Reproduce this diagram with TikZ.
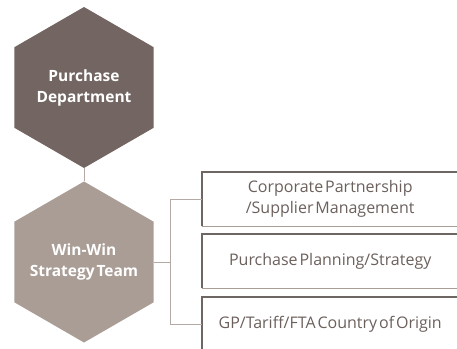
\documentclass[tikz,border=0pt]{standalone}
\usepackage{fontspec}
\setmainfont{Open Sans}
\usetikzlibrary{shapes.geometric}
\definecolor{deptbrown}{HTML}{736662}
\definecolor{teambrown}{HTML}{A99D96}
\definecolor{linkgray}{HTML}{B3AAA5}
\definecolor{edgegray}{HTML}{6E6663}
\definecolor{textgray}{HTML}{6B605C}
\newcommand{\tightwords}{\spaceskip=0.12em plus 0.05em\relax}

\begin{document}
\begin{tikzpicture}[x=1pt, y=-1pt,
    hexnode/.style={regular polygon, regular polygon sides=6, regular polygon rotate=30,
        minimum size=161pt, inner sep=0pt},
    hexlabel/.style={text=white, align=center, inner sep=0pt,
        font=\bfseries\fontsize{15.5}{21}\selectfont\tightwords},
    boxnode/.style={anchor=north west, minimum width=256pt, minimum height=54pt,
        inner sep=0pt, text=textgray, align=center, font=\fontsize{16}{21}\selectfont\tightwords},
    linkline/.style={draw=linkgray, line width=1pt},
    topedge/.style={draw=edgegray, line width=1.2pt},
    bottomedge/.style={draw=teambrown, line width=1.5pt}]
    \useasboundingbox (0,0) rectangle (457,348);

    % Hexagons:
    \node[hexnode, fill=deptbrown, label={[hexlabel]center:Purchase\\Department}] (dept) at (84,87.5) {};
    \node[hexnode, fill=teambrown, label={[hexlabel]center:Win-Win\\Strategy Team}] (team) at (84,262) {};

    % Boxes:
    \node[boxnode] (partner) at (202,172) {Corporate Partnership\\/Supplier Management};
    \node[boxnode] (planning) at (202,234) {Purchase Planning/Strategy};
    \node[boxnode] (origin) at (202,297) {GP/Tariff/FTA Country of Origin};
    \foreach \b in {partner, planning, origin} {
        \draw[bottomedge] (\b.south west) -- (\b.south east);
        \draw[topedge] (\b.south west) -- (\b.north west) -- (\b.north east);
    }

    % Links:
    \draw[linkline] (dept.south) -- (team.north);
    \draw[linkline] (team.east) -- ++(17,0) coordinate (fork);
    \draw[linkline] (partner.west) -| (fork) |- (origin.west);
\end{tikzpicture}
\end{document}
